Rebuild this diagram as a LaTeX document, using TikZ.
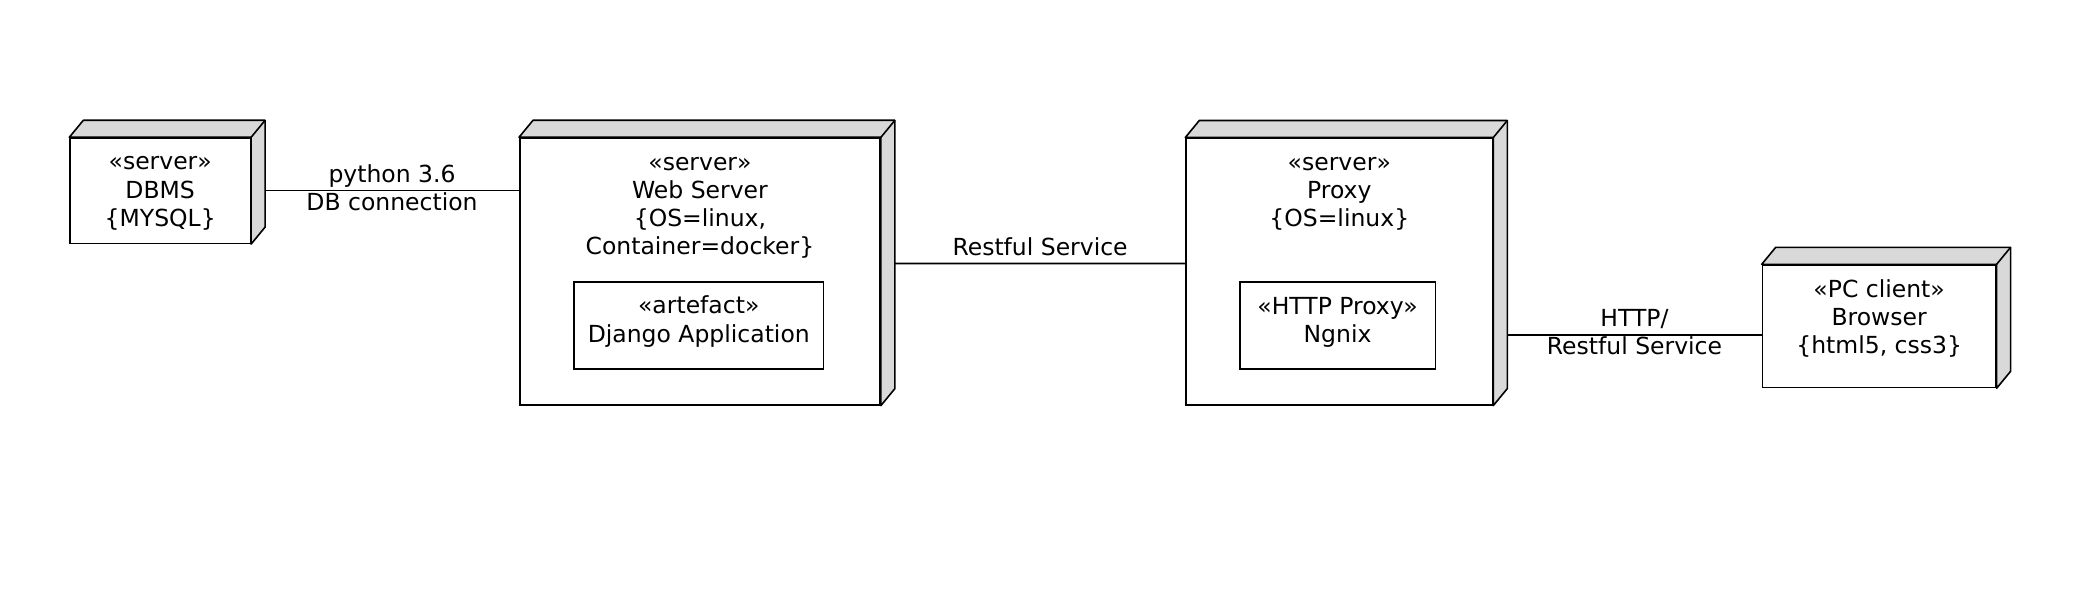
\documentclass[tikz,border=0pt]{standalone}
\usepackage{fontspec}
\setmainfont{DejaVu Sans}
\definecolor{facegray}{RGB}{217,217,217}
\tikzset{
  umlbox/.style={draw, line width=1.6pt, fill=white, inner sep=0pt, anchor=north west, rectangle},
  boxtext/.style={anchor=north, inner sep=0pt, align=center, font=\fontsize{23.5}{28.3}\selectfont},
  lbl/.style={inner sep=0pt, anchor=base, font=\fontsize{23.5}{28.3}\selectfont},
  conn/.style={line width=1.6pt},
}
\newcommand\nodedepth[1]{%
  \filldraw[fill=facegray, line width=1.6pt, line join=round]
    (#1.north west) -- ++(14pt,17pt) -- ([shift={(14pt,17pt)}]#1.north east)
    -- ([shift={(14pt,17pt)}]#1.south east) -- (#1.south east) -- (#1.north east) -- cycle;
  \draw[line width=1.6pt] (#1.north east) -- ++(14pt,17pt);}
\begin{document}
\begin{tikzpicture}[x=1pt, y=-1pt]
\useasboundingbox[fill=white] (0,0) rectangle (2096,596);

% DBMS
\node[umlbox, minimum width=180.2pt, minimum height=105.2pt] (dbms) at (69.3,137.3) {};
\nodedepth{dbms}
\node[boxtext] (dbmst) at ([yshift=-12.5pt]dbms.north) {\rule{0pt}{20pt}«server»\\DBMS\\\{MYSQL\}};

% Web Server
\node[umlbox, minimum width=360.3pt, minimum height=266.7pt] (web) at (519,137.3) {};
\nodedepth{web}
\node[boxtext] (webt) at ([yshift=-12.5pt]web.north) {\rule{0pt}{20pt}«server»\\Web Server\\\{OS=linux,\\Container=docker\}};
\node[umlbox, minimum width=249.5pt, minimum height=87.3pt] (django) at (573.2,281) {};
\node[boxtext] (djangot) at ([yshift=-12.5pt]django.north) {\rule{0pt}{20pt}«artefact»\\Django Application};

% Proxy
\node[umlbox, minimum width=306.4pt, minimum height=266.5pt] (proxy) at (1185.3,137.5) {};
\nodedepth{proxy}
\node[boxtext] (proxyt) at ([yshift=-12.5pt]proxy.north) {\rule{0pt}{20pt}«server»\\Proxy\\\{OS=linux\}};
\node[umlbox, minimum width=195.5pt, minimum height=87pt] (ngnix) at (1239,281.3) {};
\node[boxtext] (ngnixt) at ([yshift=-12.5pt]ngnix.north) {\rule{0pt}{20pt}«HTTP Proxy»\\Ngnix};

% Browser
\node[umlbox, minimum width=233.3pt, minimum height=122.4pt] (browser) at (1761.7,264.3) {};
\nodedepth{browser}
\node[boxtext] (browsert) at ([yshift=-12.5pt]browser.north) {\rule{0pt}{20pt}«PC client»\\Browser\\\{html5, css3\}};

% Connectors
\draw[conn] ([xshift=14pt]dbms.east) -- (dbms.east -| web.west)
  node[lbl, midway, yshift=8pt] (l1a) {python 3.6}
  node[lbl, midway, yshift=-20pt] (l1b) {DB connection};

\draw[conn] ([xshift=14pt,yshift=8pt]web.east) -- ([yshift=8pt]proxy.west)
  node[lbl, midway, yshift=8pt] (l2) {Restful Service};

\coordinate (pb) at ([yshift=-8.5pt]browser.west);
\path (pb -| proxy.east) coordinate (pe);
\draw[conn] ([xshift=14pt]pe) -- (pb)
  node[lbl, midway, yshift=8pt] (l3a) {HTTP/}
  node[lbl, midway, yshift=-20pt] (l3b) {Restful Service};
\end{tikzpicture}
\end{document}
